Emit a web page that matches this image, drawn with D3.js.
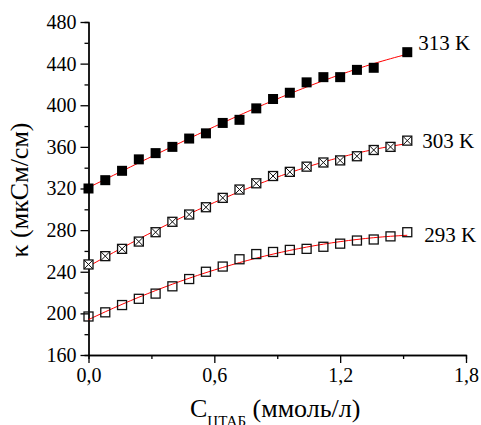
<!DOCTYPE html>
<html>
<head>
<meta charset="utf-8">
<script src="https://cdn.jsdelivr.net/npm/d3@7"></script>
<style>
  body { margin: 0; background: #fff; }
  text { font-family: "Liberation Serif", "Times New Roman", serif; fill: #000; }
</style>
</head>
<body>
<svg width="481" height="425"></svg>
<script>
// concentration CTAB, mmol/l
var conc = [0, 0.08, 0.16, 0.24, 0.32, 0.40, 0.48, 0.56, 0.64, 0.72,
            0.80, 0.88, 0.96, 1.04, 1.12, 1.20, 1.28, 1.36, 1.44, 1.52]

// conductivity, uS/cm  (313 K has no point at 1.44)
var k313 = [320, 328, 337, 348, 354, 360, 368, 373, 383, 386,
            397, 406, 412, 422, 427, 427, 434, 436, null, 451]
var k303 = [247, 255, 262, 269, 278, 288, 295, 302, 311, 319,
            325, 332, 336, 341, 345, 347, 351, 357, 360, 366]
var k293 = [197, 201, 208, 214, 219, 226, 233, 240, 245, 252,
            257, 259, 261, 262, 264, 267, 270, 271, 274, 278]

var seriesNames = ["313 K", "303 K", "293 K"]
var yTicks = [160, 200, 240, 280, 320, 360, 400, 440, 480]
var xTicks = [0, 0.6, 1.2, 1.8]

var svg = d3.select("svg")

var x = d3.scaleLinear().domain([0, 1.8]).range([88.5, 466])
var y = d3.scaleLinear().domain([160, 480]).range([355, 22])

// minor ticks first
svg.append("g")
    .attr("transform", "translate(88.5,0)")
    .call(d3.axisLeft(y).tickValues(d3.range(180, 480, 40)).tickSize(4).tickFormat(""))
svg.append("g")
    .attr("transform", "translate(0,355)")
    .call(d3.axisBottom(x).tickValues([0.3, 0.9, 1.5]).tickSize(4).tickFormat(""))

var yAxis = svg.append("g")
    .attr("transform", "translate(88.5,0)")
    .call(d3.axisLeft(y).tickValues(yTicks).tickSize(8).tickPadding(4).tickSizeOuter(0))
var xAxis = svg.append("g")
    .attr("transform", "translate(0,355)")
    .call(d3.axisBottom(x).tickValues(xTicks).tickSize(8).tickPadding(5).tickSizeOuter(0)
        .tickFormat(d => d3.format(".1f")(d).replace(".", ",")))

svg.selectAll(".domain, .tick line").attr("stroke", "#000").attr("stroke-width", 1.3)
svg.selectAll(".tick text").attr("font-size", 20).attr("font-family", "Liberation Serif")

// cubic least squares fit for the red lines
function polyFit(xs, ys, deg) {
    var n = deg + 1
    var A = [], b = []
    for (var i = 0; i < n; i++) { A.push(new Array(n).fill(0)); b.push(0) }
    xs.forEach(function (xv, k) {
        for (var i = 0; i < n; i++) {
            b[i] += ys[k] * Math.pow(xv, i)
            for (var j = 0; j < n; j++) A[i][j] += Math.pow(xv, i + j)
        }
    })
    // gauss elimination
    for (var c = 0; c < n; c++) {
        for (var r = c + 1; r < n; r++) {
            var f = A[r][c] / A[c][c]
            for (var j = c; j < n; j++) A[r][j] -= f * A[c][j]
            b[r] -= f * b[c]
        }
    }
    var coef = new Array(n).fill(0)
    for (var i = n - 1; i >= 0; i--) {
        var s = b[i]
        for (var j = i + 1; j < n; j++) s -= A[i][j] * coef[j]
        coef[i] = s / A[i][i]
    }
    return xv => coef.reduce((acc, c, i) => acc + c * Math.pow(xv, i), 0)
}

function points(vals) {
    return conc.map((c, i) => [c, vals[i]]).filter(d => d[1] != null)
}

var line = d3.line().x(d => x(d[0])).y(d => y(d[1]))

var allSeries = [k313, k303, k293]
allSeries.forEach(function (vals) {
    var pts = points(vals)
    var fit = polyFit(pts.map(d => d[0]), pts.map(d => d[1]), 3)
    var xs = d3.range(0, 1.5201, 0.02)
    svg.append("path")
        .attr("d", line(xs.map(v => [v, fit(v)])))
        .attr("fill", "none")
        .attr("stroke", "#ff0000")
        .attr("stroke-width", 1)
})

var s = 9
// 293 K open squares
svg.append("g").selectAll("rect")
    .data(points(k293)).enter().append("rect")
    .attr("x", d => x(d[0]) - s / 2).attr("y", d => y(d[1]) - s / 2)
    .attr("width", s).attr("height", s)
    .attr("fill", "none").attr("stroke", "#111").attr("stroke-width", 1.3)

// 303 K squares with a cross
var g303 = svg.append("g").selectAll("g")
    .data(points(k303)).enter().append("g")
    .attr("transform", d => `translate(${x(d[0])},${y(d[1])})`)
g303.append("rect")
    .attr("x", -s / 2).attr("y", -s / 2).attr("width", s).attr("height", s)
    .attr("fill", "#fff").attr("stroke", "#111").attr("stroke-width", 1.3)
g303.append("path")
    .attr("d", `M${-s / 2},${-s / 2}L${s / 2},${s / 2}M${s / 2},${-s / 2}L${-s / 2},${s / 2}`)
    .attr("stroke", "#111").attr("stroke-width", 1)

// 313 K filled squares
svg.append("g").selectAll("rect")
    .data(points(k313)).enter().append("rect")
    .attr("x", d => x(d[0]) - 5).attr("y", d => y(d[1]) - 5)
    .attr("width", 10).attr("height", 10)
    .attr("fill", "#000")

// series labels next to the last point
var lastVals = [k313[19], k303[19], k293[19]]
var labelDx = [11, 15, 17]
var labelDy = [-2, 7, 10]
seriesNames.forEach(function (name, i) {
    svg.append("text")
        .attr("x", x(conc[19]) + labelDx[i])
        .attr("y", y(lastVals[i]) + labelDy[i])
        .attr("font-size", 21)
        .text(name)
})

// axis titles
svg.append("text")
    .attr("transform", "translate(28,190) rotate(-90)")
    .attr("text-anchor", "middle")
    .attr("font-size", 26)
    .text("κ (мкСм/см)")

var xl = svg.append("text")
    .attr("x", 190).attr("y", 417)
    .attr("font-size", 26)
xl.append("tspan").text("C")
xl.append("tspan").attr("font-size", 15).attr("dy", 9).text("ЦТАБ")
xl.append("tspan").attr("dy", -9).text(" (ммоль/л)")
</script>
</body>
</html>
